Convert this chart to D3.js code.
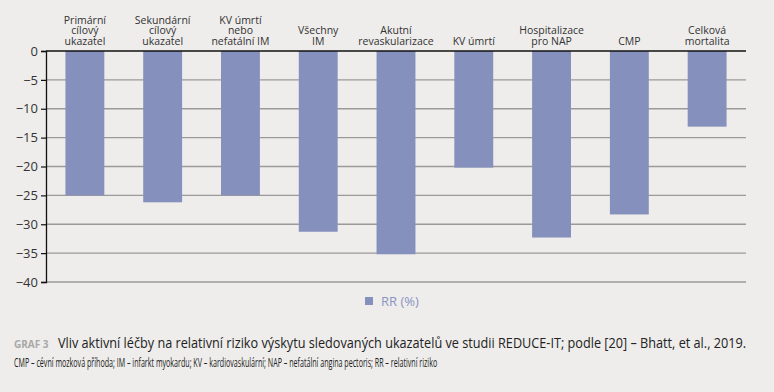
<!DOCTYPE html>
<html>
<head>
<meta charset="utf-8">
<script src="https://cdn.jsdelivr.net/npm/d3@7"></script>
<style>
  body { margin: 0; background: #eeedeb; }
  svg { display: block; font-family: "Open Sans", "Noto Sans", sans-serif; }
</style>
</head>
<body>
<div class="chart"></div>
<script>
// data
var categories = [
    ["Primární", "cílový", "ukazatel"],
    ["Sekundární", "cílový", "ukazatel"],
    ["KV úmrtí", "nebo", "nefatální IM"],
    ["Všechny", "IM"],
    ["Akutní", "revaskularizace"],
    ["KV úmrtí"],
    ["Hospitalizace", "pro NAP"],
    ["CMP"],
    ["Celková", "mortalita"]
];
var rrValues = [-25, -26.2, -25, -31.3, -35.2, -20.2, -32.3, -28.3, -13.1];
var yTicks = [0, -5, -10, -15, -20, -25, -30, -35, -40];
var seriesName = "RR (%)";

var svgWidth = 774;
var svgHeight = 392;
var margin = { top: 51, right: 28, bottom: 110, left: 46 };
var width = svgWidth - margin.left - margin.right;
var height = svgHeight - margin.top - margin.bottom;

var svg = d3.select(".chart")
    .append("svg")
    .attr("width", svgWidth)
    .attr("height", svgHeight);

svg.append("rect")
    .attr("width", svgWidth)
    .attr("height", svgHeight)
    .attr("fill", "#eeedeb");

var chartGroup = svg.append("g")
    .attr("transform", `translate(${margin.left}, ${margin.top})`);

var xScale = d3.scaleBand()
    .domain(d3.range(categories.length))
    .range([0, width])
    .paddingInner(0.5)
    .paddingOuter(0.25);

var yScale = d3.scaleLinear()
    .domain([0, -40])
    .range([0, height]);

// gridlines
chartGroup.selectAll(".grid")
    .data(yTicks.filter(d => d !== 0))
    .enter()
    .append("line")
    .attr("x1", 0)
    .attr("x2", width)
    .attr("y1", d => yScale(d))
    .attr("y2", d => yScale(d))
    .attr("stroke", "#9a9a9a")
    .attr("stroke-width", 1.3);

// bars
chartGroup.selectAll(".bar")
    .data(rrValues)
    .enter()
    .append("rect")
    .attr("x", (d, i) => xScale(i))
    .attr("y", yScale(0))
    .attr("width", xScale.bandwidth())
    .attr("height", d => yScale(d) - yScale(0))
    .attr("fill", "#8690bc");

// zero line
chartGroup.append("line")
    .attr("x1", 0)
    .attr("x2", width)
    .attr("y1", yScale(0))
    .attr("y2", yScale(0))
    .attr("stroke", "#111")
    .attr("stroke-width", 1.3);

// y axis
var leftAxis = d3.axisLeft(yScale)
    .tickValues(yTicks)
    .tickSize(5)
    .tickPadding(3)
    .tickFormat(d => d === 0 ? "0" : "\u2212" + Math.abs(d));

var yAxisG = chartGroup.append("g").call(leftAxis);
yAxisG.select(".domain").attr("stroke", "#111").attr("stroke-width", 1.3);
yAxisG.selectAll(".tick line").attr("stroke", "#111").attr("stroke-width", 1.2);
yAxisG.selectAll(".tick text")
    .attr("fill", "#333")
    .style("font-size", "13px")
    .style("font-family", "'Open Sans', sans-serif");

// category labels (one text per category, lines as tspans)
categories.forEach(function(lines, i) {
    var cx = margin.left + xScale(i) + xScale.bandwidth() / 2;
    var n = lines.length;
    var label = svg.append("text")
        .attr("text-anchor", "middle")
        .attr("fill", "#333")
        .style("font-size", "10.5px");
    lines.forEach(function(t, j) {
        label.append("tspan")
            .attr("x", cx)
            .attr("y", 44.5 - (n - 1 - j) * 10.5)
            .text(t);
    });
});

// legend
svg.append("rect")
    .attr("x", 365)
    .attr("y", 297)
    .attr("width", 8)
    .attr("height", 8)
    .attr("fill", "#8690bc");

svg.append("text")
    .attr("x", 381)
    .attr("y", 306)
    .attr("fill", "#8a93c2")
    .style("font-size", "13px")
    .text(seriesName);

// caption
svg.append("text")
    .attr("x", 14)
    .attr("y", 348)
    .attr("fill", "#a8a8a8")
    .style("font-size", "10px")
    .style("font-weight", "bold")
    .text("GRAF 3");

// condensed text: squeeze horizontally to the width of the reference
function squeezed(x, y, size, targetWidth, str) {
    var g = svg.append("g");
    var t = g.append("text")
        .attr("x", 0)
        .attr("y", 0)
        .attr("fill", "#222")
        .style("font-size", size + "px")
        .text(str);
    var len = t.node().getComputedTextLength();
    g.attr("transform", `translate(${x}, ${y}) scale(${targetWidth / len}, 1)`);
}

squeezed(58, 348, 15, 689, "Vliv aktivní léčby na relativní riziko výskytu sledovaných ukazatelů ve studii REDUCE-IT; podle [20] – Bhatt, et al., 2019.");
squeezed(14, 367, 12.5, 424, "CMP – cévní mozková příhoda; IM – infarkt myokardu; KV – kardiovaskulární; NAP – nefatální angina pectoris; RR – relativní riziko");
</script>
</body>
</html>
